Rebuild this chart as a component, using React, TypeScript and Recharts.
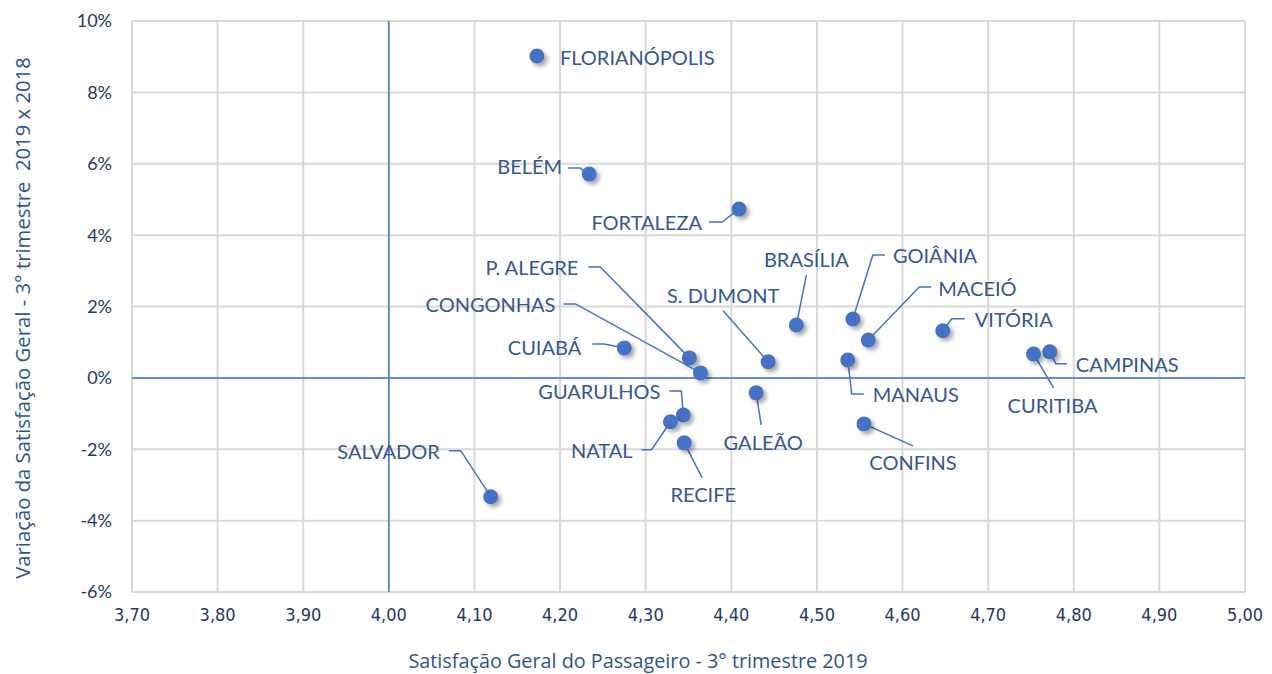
import React from 'react';
import { ScatterChart, Scatter, XAxis, YAxis, CartesianGrid, ReferenceLine, Label } from 'recharts';

const airports = [
  'FLORIANÓPOLIS', 'BELÉM', 'FORTALEZA', 'P. ALEGRE', 'CONGONHAS', 'CUIABÁ', 'S. DUMONT',
  'BRASÍLIA', 'GOIÂNIA', 'MACEIÓ', 'VITÓRIA', 'MANAUS', 'CAMPINAS', 'CURITIBA',
  'GALEÃO', 'CONFINS', 'GUARULHOS', 'NATAL', 'RECIFE', 'SALVADOR',
];
const satisfacao2019 = [
  4.173, 4.234, 4.409, 4.351, 4.364, 4.275, 4.443,
  4.476, 4.542, 4.560, 4.647, 4.536, 4.772, 4.753,
  4.429, 4.555, 4.344, 4.329, 4.345, 4.119,
];
const variacao = [
  9.02, 5.71, 4.73, 0.56, 0.14, 0.84, 0.45,
  1.48, 1.65, 1.06, 1.32, 0.50, 0.73, 0.67,
  -0.42, -1.29, -1.04, -1.23, -1.82, -3.33,
];
const xTicks = [3.7, 3.8, 3.9, 4.0, 4.1, 4.2, 4.3, 4.4, 4.5, 4.6, 4.7, 4.8, 4.9, 5.0];
const yTicks = [-6, -4, -2, 0, 2, 4, 6, 8, 10];

// label placement relative to each point (px): text offset, anchor, leader line
type LabelPos = { dx: number; dy: number; anchor: 'start' | 'middle' | 'end'; path: number[][] };
const labelPos: Record<string, LabelPos> = {
  'FLORIANÓPOLIS': { dx: 23, dy: 1, anchor: 'start', path: [] },
  'BELÉM': { dx: -27, dy: -8, anchor: 'end', path: [[-21, -6], [-9, -6], [0, 0]] },
  'FORTALEZA': { dx: -37, dy: 13, anchor: 'end', path: [[-30, 13], [-17, 13], [0, 0]] },
  'P. ALEGRE': { dx: -111, dy: -91, anchor: 'end', path: [[-101, -91], [-89, -91], [0, 0]] },
  'CONGONHAS': { dx: -145, dy: -69, anchor: 'end', path: [[-137, -69], [-125, -69], [0, 0]] },
  'CUIABÁ': { dx: -43, dy: -1, anchor: 'end', path: [[-32, -4], [-20, -4], [0, 0]] },
  'S. DUMONT': { dx: -45, dy: -67, anchor: 'middle', path: [[-45, -51], [0, 0]] },
  'BRASÍLIA': { dx: 10, dy: -66, anchor: 'middle', path: [[10, -50], [0, 0]] },
  'GOIÂNIA': { dx: 40, dy: -64, anchor: 'start', path: [[32, -64], [20, -64], [0, 0]] },
  'MACEIÓ': { dx: 70, dy: -52, anchor: 'start', path: [[63, -53], [51, -53], [0, 0]] },
  'VITÓRIA': { dx: 32, dy: -12, anchor: 'start', path: [[22, -12], [9, -12], [0, 0]] },
  'MANAUS': { dx: 25, dy: 34, anchor: 'start', path: [[0, 0], [4, 34], [16, 34]] },
  'CAMPINAS': { dx: 26, dy: 12, anchor: 'start', path: [[0, 0], [6, 12], [17, 12]] },
  'CURITIBA': { dx: 19, dy: 51, anchor: 'middle', path: [[0, 0], [20, 34]] },
  'GALEÃO': { dx: 7, dy: 49, anchor: 'middle', path: [[0, 0], [5, 32]] },
  'CONFINS': { dx: 49, dy: 38, anchor: 'middle', path: [[0, 0], [49, 22]] },
  'GUARULHOS': { dx: -23, dy: -24, anchor: 'end', path: [[-14, -24], [-2, -24], [0, 0]] },
  'NATAL': { dx: -38, dy: 28, anchor: 'end', path: [[-29, 28], [-19, 28], [0, 0]] },
  'RECIFE': { dx: 19, dy: 51, anchor: 'middle', path: [[0, 0], [18, 35]] },
  'SALVADOR': { dx: -51, dy: -46, anchor: 'end', path: [[-42, -46], [-30, -46], [0, 0]] },
};

const data = airports.map((name, i) => ({ name, x: satisfacao2019[i], y: variacao[i] }));

const BLUE = '#4472c4';
const LABEL_COLOR = '#34578f';
const TICK_COLOR = '#1f3864';
const TITLE_COLOR = '#2f5587';
const FONT = 'Lato, "Open Sans", sans-serif';
const TITLE_FONT = '"Open Sans", sans-serif';
const NARROW = '"Liberation Sans Narrow", "DejaVu Sans Condensed", sans-serif';

const PointWithLabel = (props: any) => {
  const { cx, cy, payload } = props;
  if (cx == null || cy == null) return null;
  const pos = labelPos[payload.name];
  return (
    <g>
      {pos && pos.path.length > 0 && (
        <polyline
          points={pos.path.map(p => `${cx + p[0]},${cy + p[1]}`).join(' ')}
          fill="none"
          stroke={BLUE}
          strokeWidth={1.5}
        />
      )}
      <circle cx={cx} cy={cy} r={7.5} fill={BLUE} filter="url(#dotShadow)" />
      {pos && (
        <text
          x={cx + pos.dx}
          y={cy + pos.dy}
          textAnchor={pos.anchor}
          dominantBaseline="central"
          fontFamily={FONT}
          fontSize={20}
          fill={LABEL_COLOR}
        >
          {payload.name}
        </text>
      )}
    </g>
  );
};

const XTitle = () => (
  <text x={638} y={660} textAnchor="middle" dominantBaseline="central" fontFamily={TITLE_FONT} fontSize={19.8} fill={TITLE_COLOR}>
    Satisfação Geral do Passageiro - 3° trimestre 2019
  </text>
);

const YTitle = () => (
  <text
    x={22}
    y={318}
    transform="rotate(-90 22 318)"
    textAnchor="middle"
    dominantBaseline="central"
    fontFamily={TITLE_FONT}
    fontSize={20.3}
    fill={TITLE_COLOR}
    style={{ whiteSpace: 'pre' }}
  >
    {'Variação da Satisfação Geral - 3° trimestre  2019 x 2018'}
  </text>
);

export default function App() {
  return (
    <div style={{ position: 'absolute', left: 0, top: 0, width: 1272, height: 674, background: '#fff' }}>
      <svg width={0} height={0} style={{ position: 'absolute' }}>
        <defs>
          <filter id="dotShadow" x="-50%" y="-50%" width="200%" height="200%">
            <feDropShadow dx={3} dy={3} stdDeviation={2} floodColor="#000" floodOpacity={0.35} />
          </filter>
        </defs>
      </svg>
      <ScatterChart width={1272} height={674} margin={{ top: 21, right: 27, bottom: 52, left: 72 }}>
        <CartesianGrid stroke="#d9d9d9" strokeWidth={2} />
        <XAxis
          type="number"
          dataKey="x"
          domain={[3.7, 5.0]}
          ticks={xTicks}
          height={30}
          axisLine={false}
          tickLine={false}
          tickMargin={10}
          tickFormatter={(v: number) => v.toFixed(2).replace('.', ',')}
          tick={{ fill: TICK_COLOR, fontSize: 18, fontFamily: NARROW }}
        >
          <Label content={XTitle} />
        </XAxis>
        <YAxis
          type="number"
          dataKey="y"
          domain={[-6, 10]}
          ticks={yTicks}
          width={60}
          axisLine={false}
          tickLine={false}
          tickMargin={14}
          tickFormatter={(v: number) => `${v}%`}
          tick={{ fill: TICK_COLOR, fontSize: 18, fontFamily: FONT }}
        >
          <Label content={YTitle} />
        </YAxis>
        <ReferenceLine x={4.0} stroke={BLUE} strokeWidth={1.5} />
        <ReferenceLine y={0} stroke={BLUE} strokeWidth={1.5} />
        <Scatter data={data} fill={BLUE} shape={PointWithLabel} isAnimationActive={false} />
      </ScatterChart>
    </div>
  );
}
